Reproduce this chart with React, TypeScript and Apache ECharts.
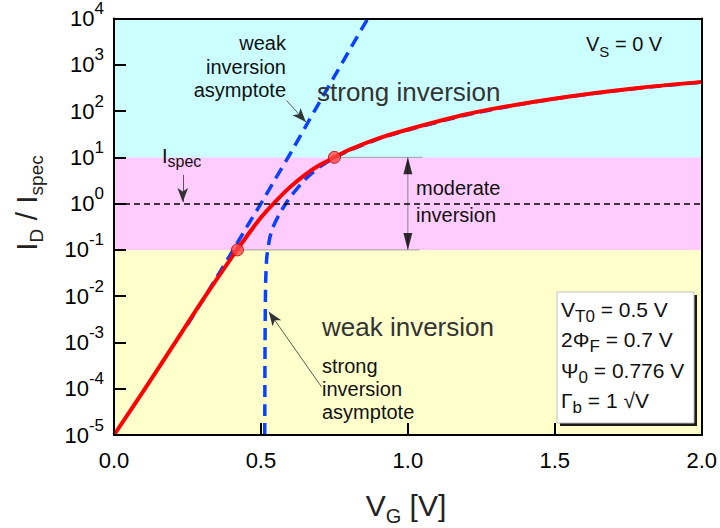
import React, { useEffect, useRef } from "react";
import * as echarts from "echarts";

const FONT = "'Liberation Sans', Arial, Helvetica, sans-serif";

// ---- data ----
const xTickStep = 0.5;
const xMin = 0;
const xMax = 2;
const yMin = 1e-5;
const yMax = 1e4;

// EKV drain current (normalized) vs gate voltage
const vgDrain = [0, 0.1, 0.2, 0.3, 0.4, 0.45, 0.5, 0.55, 0.6, 0.65, 0.7, 0.75, 0.8, 0.9, 1.0, 1.2, 1.4, 1.6, 1.8, 2.0];
const idDrain = [1.0e-5, 8.9e-5, 8.3e-4, 7.9e-3, 0.068, 0.19, 0.5, 1.12, 2.3, 4.2, 6.8, 10, 14.5, 25.7, 40, 85, 148, 229, 324, 427];

// weak inversion asymptote
const vgWeak = [0.25, 0.3, 0.35, 0.4, 0.45, 0.5, 0.55, 0.6, 0.65, 0.7, 0.75, 0.8, 0.87];
const idWeak = [0.0024, 0.0078, 0.026, 0.087, 0.3, 1.0, 3.5, 12, 44, 158, 560, 2000, 11700];

// strong inversion asymptote
const vgStrong = [0.513, 0.514, 0.516, 0.52, 0.53, 0.54, 0.56, 0.58, 0.6, 0.65, 0.7, 0.75, 0.8, 0.9, 1.0, 1.2, 1.4, 1.6, 1.8, 2.0];
const idStrong = [1e-5, 1e-3, 0.02, 0.07, 0.18, 0.3, 0.55, 0.9, 1.4, 3.3, 6.2, 9.8, 14, 25, 39, 83, 146, 226, 320, 420];

// boundary points of moderate inversion
const markerVg = [0.42, 0.75];
const markerId = [0.1, 10];

// region bands
const bandLimits = [1e-5, 0.1, 10, 1e4];
const bandColors = ["#ffffcc", "#ffccff", "#ccffff"];
const ispecLevel = 1;

// guides
const guideEndVg = [1.04, 1.05];
const arrowVg = 1.0;

// annotation arrows [from, to]
const ispecArrow = [[0.234, 4.2], [0.234, 1.08]];
const weakArrow = [[0.587, 170], [0.653, 58]];
const strongArrow = [[0.706, 1.1e-4], [0.527, 0.0046]];

export default function App() {
  const ref = useRef<HTMLDivElement>(null);

  useEffect(() => {
    if (!ref.current) return;
    const chart = echarts.init(ref.current, undefined, { renderer: "svg" });

    const pairs = (xs: number[], ys: number[]) => xs.map((x, i) => [x, ys[i]]);

    const txt = (x: number, y: number, text: string, extra: any = {}) => ({
      type: "text",
      x,
      y,
      z: 101,
      silent: true,
      style: {
        text,
        fontFamily: FONT,
        fontSize: 20,
        fill: "#111",
        align: "left",
        verticalAlign: "middle",
        ...extra,
      },
    });

    const richSub = (main: number, sub: number, pad: number, color = "#111") => ({
      m: { fontSize: main, fontFamily: FONT, fill: color },
      sub: { fontSize: sub, fontFamily: FONT, fill: color, padding: [pad, 0, 0, 0] },
    });

    const bandAreas = bandColors.map((c, i) => [
      { yAxis: bandLimits[i], itemStyle: { color: c } },
      { yAxis: bandLimits[i + 1] },
    ]);

    const option: any = {
      animation: false,
      backgroundColor: "#ffffff",
      grid: { left: 114, right: 18, top: 18, bottom: 93, containLabel: false },
      xAxis: [
        {
          type: "value",
          min: xMin,
          max: xMax,
          interval: xTickStep,
          position: "bottom",
          z: 10,
          axisLine: { show: true, onZero: false, lineStyle: { color: "#000", width: 2 } },
          axisTick: { show: true, inside: true, length: 12, lineStyle: { color: "#000", width: 2 } },
          axisLabel: {
            margin: 14,
            fontSize: 22,
            color: "#000",
            fontFamily: FONT,
            formatter: (v: number) => v.toFixed(1),
          },
          splitLine: { show: false },
        },
        {
          type: "value",
          min: xMin,
          max: xMax,
          position: "top",
          z: 10,
          axisLine: { show: true, onZero: false, lineStyle: { color: "#000", width: 2 } },
          axisTick: { show: false },
          axisLabel: { show: false },
          splitLine: { show: false },
        },
      ],
      yAxis: [
        {
          type: "log",
          logBase: 10,
          min: yMin,
          max: yMax,
          interval: 1,
          z: 10,
          axisLine: { show: true, onZero: false, lineStyle: { color: "#000", width: 2 } },
          axisTick: { show: true, inside: true, length: 12, lineStyle: { color: "#000", width: 2 } },
          axisLabel: {
            margin: 10,
            formatter: (v: number) => {
              const e = Math.round(Math.log10(v));
              return `{b|10}{s|${e}}`;
            },
            rich: {
              b: { fontSize: 22, fontFamily: FONT, color: "#000" },
              s: { fontSize: 17, fontFamily: FONT, color: "#000", padding: [0, 0, 20, 0] },
            },
          },
          splitLine: { show: false },
        },
        {
          type: "value",
          min: 0,
          max: 1,
          position: "right",
          z: 10,
          axisLine: { show: true, onZero: false, lineStyle: { color: "#000", width: 2 } },
          axisTick: { show: false },
          axisLabel: { show: false },
          splitLine: { show: false },
        },
      ],
      series: [
        {
          name: "bg",
          type: "line",
          data: [],
          z: 1,
          silent: true,
          markArea: { silent: true, data: bandAreas },
          markLine: {
            silent: true,
            symbol: "none",
            label: { show: false },
            lineStyle: { color: "#000", type: [6, 4], width: 1.5 },
            data: [{ yAxis: ispecLevel }],
          },
        },
        {
          name: "guide-top",
          type: "line",
          data: [[markerVg[1], markerId[1]], [guideEndVg[1], markerId[1]]],
          symbol: "none",
          z: 2,
          silent: true,
          lineStyle: { color: "#a0a0a0", width: 1 },
        },
        {
          name: "guide-bottom",
          type: "line",
          data: [[markerVg[0], markerId[0]], [guideEndVg[0], markerId[0]]],
          symbol: "none",
          z: 2,
          silent: true,
          lineStyle: { color: "#a0a0a0", width: 1 },
        },
        {
          name: "guide-vertical",
          type: "line",
          data: [[arrowVg, markerId[1]], [arrowVg, markerId[0]]],
          symbol: "none",
          z: 2,
          silent: true,
          lineStyle: { color: "#888", width: 1 },
        },
        {
          name: "arrowheads",
          type: "scatter",
          z: 6,
          silent: true,
          symbol: "triangle",
          symbolSize: [9, 17],
          itemStyle: { color: "#000" },
          data: [
            { value: [arrowVg, markerId[1]], symbolOffset: [0, "50%"], symbolRotate: 0 },
            { value: [arrowVg, markerId[0]], symbolOffset: [0, "-50%"], symbolRotate: 180 },
          ],
        },
        {
          name: "annotations",
          type: "line",
          data: [],
          z: 6,
          silent: true,
          markLine: {
            silent: true,
            symbol: ["none", "arrow"],
            symbolSize: [8, 14],
            label: { show: false },
            lineStyle: { color: "#333", width: 0.8, type: "solid" },
            data: [ispecArrow, weakArrow, strongArrow].map((a) => [{ coord: a[0] }, { coord: a[1] }]),
          },
        },
        {
          name: "weak asymptote",
          type: "line",
          data: pairs(vgWeak, idWeak),
          symbol: "none",
          smooth: 0.2,
          z: 3,
          lineStyle: { color: "#0a40ff", width: 3.5, type: [12, 7] },
        },
        {
          name: "strong asymptote",
          type: "line",
          data: pairs(vgStrong, idStrong),
          symbol: "none",
          smooth: 0.2,
          z: 3,
          lineStyle: { color: "#0a40ff", width: 3.5, type: [12, 7] },
        },
        {
          name: "ID",
          type: "line",
          data: pairs(vgDrain, idDrain),
          symbol: "none",
          smooth: 0.3,
          z: 4,
          lineStyle: { color: "#ff0000", width: 4 },
        },
        {
          name: "markers",
          type: "scatter",
          data: pairs(markerVg, markerId),
          symbol: "circle",
          symbolSize: 12,
          z: 7,
          itemStyle: { color: "#ff4646", borderColor: "#b00000", borderWidth: 1 },
        },
      ],
      graphic: {
        elements: [
          // axis titles
          {
            type: "text",
            x: 26,
            y: 203,
            rotation: Math.PI / 2,
            z: 101,
            silent: true,
            style: {
              text: "{m|I}{sub|D}{m| / I}{sub|spec}",
              align: "center",
              verticalAlign: "middle",
              rich: richSub(30, 19, 20, "#222"),
            },
          },
          {
            type: "text",
            x: 406,
            y: 505,
            z: 101,
            silent: true,
            style: {
              text: "{m|V}{sub|G}{m| [V]}",
              align: "center",
              verticalAlign: "middle",
              rich: richSub(30, 20, 22, "#222"),
            },
          },
          // region labels
          txt(317, 92, "strong inversion", { fontSize: 26, fill: "#333" }),
          txt(322, 327, "weak inversion", { fontSize: 26, fill: "#333" }),
          txt(416, 188, "moderate"),
          txt(416, 215, "inversion"),
          txt(286, 43, "weak", { align: "right" }),
          txt(286, 67, "inversion", { align: "right" }),
          txt(286, 90, "asymptote", { align: "right" }),
          txt(322, 366, "strong"),
          txt(322, 389, "inversion"),
          txt(322, 412, "asymptote"),
          txt(162, 156, "{m|I}{sub|spec}", { rich: richSub(20, 16, 10) }),
          txt(586, 44, "{m|V}{sub|S}{m| = 0 V}", { rich: richSub(20, 15, 14) }),
          // parameter box
          {
            type: "rect",
            z: 99,
            silent: true,
            shape: { x: 560, y: 295, width: 137, height: 131 },
            style: { fill: "#1a1a1a" },
          },
          {
            type: "rect",
            z: 100,
            silent: true,
            shape: { x: 557, y: 292, width: 137, height: 131 },
            style: { fill: "#ffffff", stroke: "#c0c0c0", lineWidth: 1 },
          },
          txt(561, 309, "{m|V}{sub|T0}{m| = 0.5 V}", { rich: richSub(21, 17, 14) }),
          txt(561, 339, "{m|2\u03A6}{sub|F}{m| = 0.7 V}", { rich: richSub(21, 17, 14) }),
          txt(561, 370, "{m|\u03A8}{sub|0}{m| = 0.776 V}", { rich: richSub(21, 17, 14) }),
          txt(561, 400, "{m|\u0393}{sub|b}{m| = 1 \u221AV}", { rich: richSub(21, 17, 14) }),
        ],
      },
    };

    chart.setOption(option);
    return () => chart.dispose();
  }, []);

  return (
    <div
      ref={ref}
      style={{ position: "fixed", left: 0, top: 0, width: 720, height: 528, background: "#fff" }}
    />
  );
}
